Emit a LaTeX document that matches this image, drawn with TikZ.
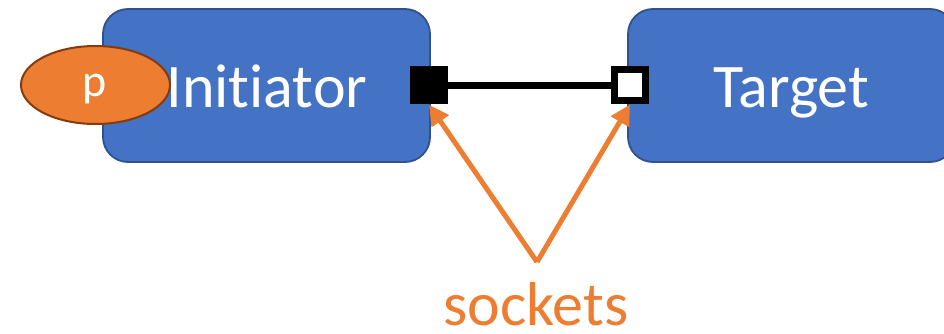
\documentclass[tikz,border=0pt]{standalone}
\usepackage{fontspec}
\setmainfont{Carlito}[Ligatures=NoCommon]
\usetikzlibrary{shapes.geometric,arrows.meta}

\definecolor{boxfill}{HTML}{4472C4}
\definecolor{boxline}{HTML}{2F528F}
\definecolor{accent}{HTML}{ED7D31}
\definecolor{accentline}{HTML}{843C0C}

\tikzset{
  module/.style={draw=boxline, line width=1.8pt, fill=boxfill, rounded corners=25pt,
    minimum width=327pt, minimum height=153pt, inner sep=0pt},
  modlabel/.style={anchor=base, text=white, inner sep=0pt, font=\fontsize{62}{62}\selectfont},
  initsock/.style={fill=black, minimum size=38pt, inner sep=0pt},
  targsock/.style={draw=black, fill=white, line width=7pt, minimum size=31pt, inner sep=0pt},
  link/.style={draw=black, line width=7.5pt},
  pointer/.style={draw=accent, line width=5pt, -{Triangle[length=20pt,width=20pt]}},
  portdot/.style={ellipse, draw=accentline, line width=2pt, fill=accent,
    minimum width=149pt, minimum height=78pt, inner sep=0pt}
}

\begin{document}
\begin{tikzpicture}[x=1pt,y=-1pt]
  \useasboundingbox (0,0) rectangle (944,334);
  \clip (0,0) rectangle (944,334);

  % the two modules
  \node[module] (init) at (266.5,85.5) {};
  \node[module] (targ) at (791.5,85.5) {};
  \node[modlabel] (initText) at (267,107) {Initiator};
  \node[modlabel] (targText) at (791,107) {Target};

  % port on the initiator
  \node[portdot] (port) at (95.5,85) {};
  \node[anchor=base, text=white, inner sep=0pt, font=\fontsize{46}{46}\selectfont] (portText) at (95,97) {p};

  % sockets and the binding between them
  \node[initsock] (isock) at (429,85.5) {};
  \node[targsock] (tsock) at (630,85.5) {};
  \draw[link] (isock.east) -- (tsock.west);

  % callout
  \coordinate (apex) at (537,262);
  \draw[pointer] (apex) -- (isock.south);
  \draw[pointer] (apex) -- (tsock.south);
  \node[anchor=base, text=accent, inner sep=0pt, font=\fontsize{62}{62}\selectfont] (note) at (536,325) {sockets};
\end{tikzpicture}
\end{document}
